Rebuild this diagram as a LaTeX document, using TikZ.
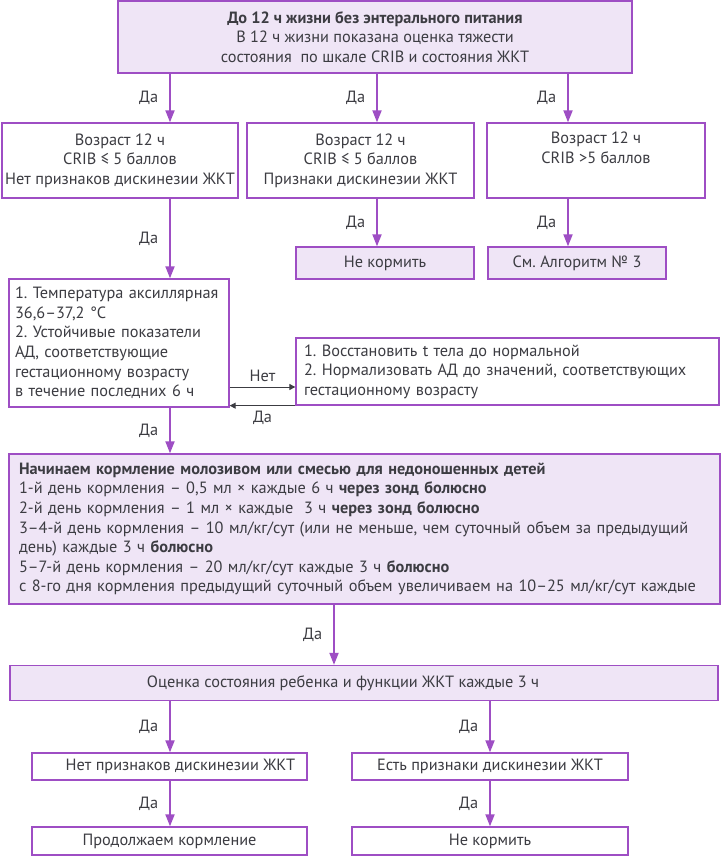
\documentclass[tikz,border=0pt]{standalone}
\usepackage{fontspec}
\setmainfont{PT Sans}
\frenchspacing
\usetikzlibrary{arrows.meta,positioning,calc}
\definecolor{flowpurple}{RGB}{158,78,196}
\definecolor{flowfill}{RGB}{239,229,246}
\definecolor{txtgray}{RGB}{60,60,66}
\newcommand{\flowfont}{\fontsize{16.3}{19.6}\selectfont}
\tikzset{
  boxln/.style={draw=flowpurple, line width=1.3pt, fill=white, text=txtgray, inner sep=0pt, align=center, font=\flowfont},
  boxfill/.style={boxln, fill=flowfill},
  flowarr/.style={-{Triangle[length=12pt,width=9pt]}, line width=1.8pt, flowpurple},
  thinarr/.style={-{Triangle[length=6pt,width=6pt]}, line width=0.9pt, txtgray},
  yeslbl/.style={text=txtgray, font=\flowfont, inner sep=2pt},
}

\begin{document}
\begin{tikzpicture}[x=1pt, y=-1pt]
    \path[fill=white] (0,0) rectangle (721,856);
    \useasboundingbox (0,0) rectangle (721,856);
    % columns of the arrows
    \coordinate (c1) at (170,0);
    \coordinate (c2) at (377,0);
    \coordinate (c3) at (568,0);
    \coordinate (c4) at (334,0);
    \coordinate (c5) at (490,0);
    \coordinate (nety) at (0,387);
    % boxes
    \node[boxfill, minimum width=514pt, minimum height=72pt] (top) at (375,37)
      {\textbf{До 12 ч жизни без энтерального питания}\\В 12 ч жизни показана оценка тяжести\\состояния\ \ по шкале CRIB и состояния ЖКТ};
    \node[boxln, minimum width=236pt, minimum height=75pt] (agefine) at (120,160.5)
      {Возраст 12 ч\\CRIB ≤ 5 баллов\\Нет признаков дискинезии ЖКТ};
    \node[boxln, minimum width=227pt, minimum height=75pt] (agedysk) at (360.5,160.5)
      {Возраст 12 ч\\CRIB ≤ 5 баллов\\Признаки дискинезии ЖКТ};
    \node[boxln, minimum width=218pt, minimum height=75pt] (agehigh) at (596,160.5)
      {Возраст 12 ч\\CRIB >5 баллов\\\strut};
    \node[boxfill, minimum width=178pt, minimum height=32pt] (nofeedA) at (385,263) {Не кормить};
    \node[boxfill, minimum width=178pt, minimum height=32pt] (algo) at (577,263) {См. Алгоритм № 3};
    \node[boxln, align=left, text width=208pt, inner xsep=6pt, minimum height=128pt] (temp) at (119,343)
      {1. Температура аксиллярная\\36,6–37,2 °C\\2. Устойчивые показатели\\АД, соответствующие\\гестационному возрасту\\в течение последних 6 ч};
    \node[boxln, align=left, text width=407pt, inner xsep=8pt, minimum height=67pt] (restore) at (507.5,371.5)
      {1. Восстановить t тела до нормальной\\2. Нормализовать АД до значений, соответствующих\\гестационному возрасту};
    \node[boxfill, align=left, text width=691pt, inner xsep=10pt, minimum height=150pt] (start) at (364.5,529)
      {\textbf{Начинаем кормление молозивом или смесью для недоношенных детей}\\
       1-й день кормления – 0,5 мл × каждые 6 ч \textbf{через зонд болюсно}\\
       2-й день кормления – 1 мл × каждые\ \ 3 ч \textbf{через зонд болюсно}\\
       3–4-й день кормления – 10 мл/кг/сут (или не меньше, чем суточный объем за предыдущий\\
       день) каждые 3 ч \textbf{болюсно}\\
       5–7-й день кормления – 20 мл/кг/сут каждые 3 ч \textbf{болюсно}\\
       с 8-го дня кормления предыдущий суточный объем увеличиваем на 10–25 мл/кг/сут каждые};
    \node[boxfill, minimum width=708pt, minimum height=35pt] (assess) at (364,683)
      {Оценка состояния ребенка и функции ЖКТ каждые 3 ч\hspace*{42pt}};
    \node[boxln, minimum width=275pt, minimum height=27pt] (nosign) at (169.5,766.5)
      {\hspace*{22pt}Нет признаков дискинезии ЖКТ};
    \node[boxln, minimum width=276pt, minimum height=27pt] (yessign) at (490,766.5)
      {Есть признаки дискинезии ЖКТ};
    \node[boxln, minimum width=275pt, minimum height=28pt] (cont) at (169.5,841) {Продолжаем кормление};
    \node[boxln, minimum width=276pt, minimum height=28pt] (nofeedB) at (490,841) {Не кормить};
    % arrows
    \draw[flowarr] (top.south -| c1) -- node[yeslbl, left=9pt] {Да} (agefine.north -| c1);
    \draw[flowarr] (top.south -| c2) -- node[yeslbl, left=9pt] {Да} (agedysk.north -| c2);
    \draw[flowarr] (top.south -| c3) -- node[yeslbl, left=9pt] {Да} (agehigh.north -| c3);
    \draw[flowarr] (agefine.south -| c1) -- node[yeslbl, left=9pt] {Да} (temp.north -| c1);
    \draw[flowarr] (agedysk.south -| c2) -- node[yeslbl, left=9pt] {Да} (nofeedA.north -| c2);
    \draw[flowarr] (agehigh.south -| c3) -- node[yeslbl, left=9pt] {Да} (algo.north -| c3);
    \draw[thinarr] (temp.east |- nety) -- node[yeslbl, above=3pt] {Нет} (restore.west |- nety);
    \draw[thinarr] (restore.south west) -- node[yeslbl, below=3pt] {Да} (temp.east |- restore.south west);
    \draw[flowarr] (temp.south -| c1) -- node[yeslbl, left=9pt] {Да} (start.north -| c1);
    \draw[flowarr] (start.south -| c4) -- node[yeslbl, left=9pt] {Да} (assess.north -| c4);
    \draw[flowarr] (assess.south -| c1) -- node[yeslbl, left=9pt] {Да} (nosign.north -| c1);
    \draw[flowarr] (assess.south -| c5) -- node[yeslbl, left=9pt] {Да} (yessign.north -| c5);
    \draw[flowarr] (nosign.south -| c1) -- node[yeslbl, left=9pt] {Да} (cont.north -| c1);
    \draw[flowarr] (yessign.south -| c5) -- node[yeslbl, left=9pt] {Да} (nofeedB.north -| c5);
\end{tikzpicture}
\end{document}
